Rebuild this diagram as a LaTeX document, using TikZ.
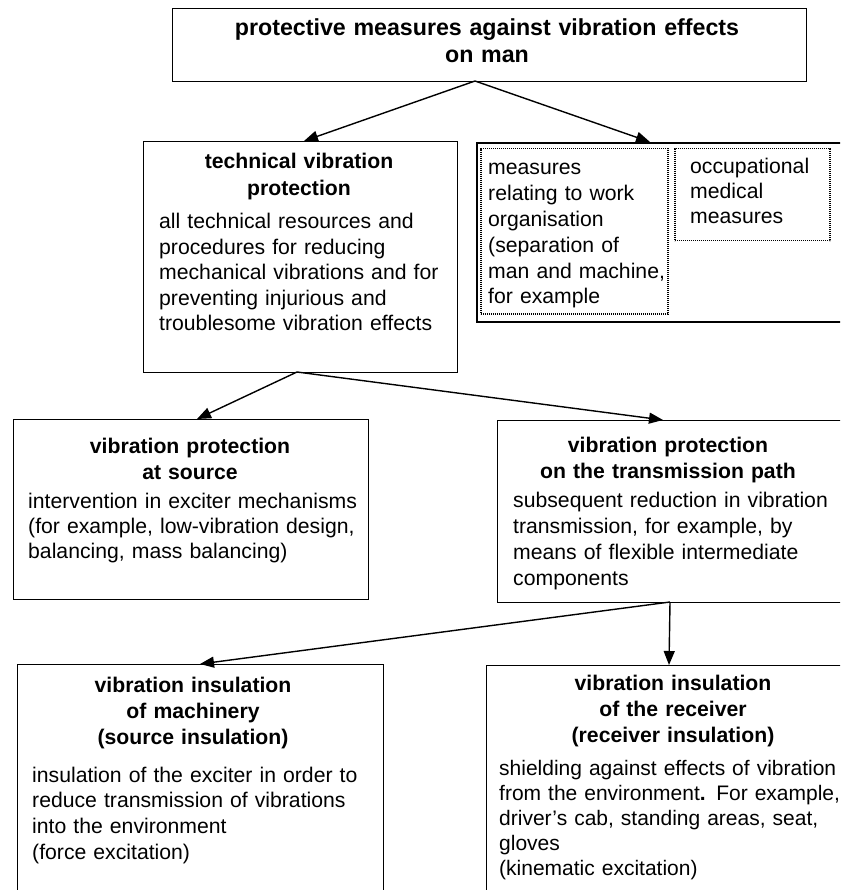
\documentclass[tikz,border=0pt]{standalone}
\usepackage{fontspec}
\setmainfont{Liberation Sans}
\usetikzlibrary{arrows.meta}
\begin{document}
\begin{tikzpicture}[x=1pt,y=-1pt,
  box/.style={draw, line width=1.4pt, anchor=north west, inner sep=0pt, rectangle},
  dotbox/.style={draw, line width=1.5pt, dash pattern=on 1.1pt off 0.9pt, anchor=north west, inner sep=0pt, rectangle},
  ttl/.style={anchor=base, inner sep=0pt, text width=560pt, align=center, font=\fontsize{21.2}{26.3}\selectfont\bfseries},
  bod/.style={anchor=base west, inner sep=0pt, text width=400pt, align=left, font=\fontsize{21.2}{25.5}\selectfont},
  arr/.style={line width=1.4pt, -{Triangle[length=14pt,width=11pt]}}]
\useasboundingbox (0,0) rectangle (840,890);
\begin{scope}
\clip (0,0) rectangle (840,890);
% boxes
\node[box, minimum width=634pt, minimum height=73pt] (top) at (172,8) {};
\node[box, minimum width=314pt, minimum height=231pt] (tech) at (143,141) {};
\node[box, line width=1.8pt, minimum width=369pt, minimum height=179pt] (meas) at (476,142) {};
\node[dotbox, minimum width=187pt, minimum height=165pt] (dl) at (480,148) {};
\node[dotbox, minimum width=155pt, minimum height=92pt] (dr) at (674,148) {};
\node[box, minimum width=355pt, minimum height=180pt] (src) at (13,419) {};
\node[box, minimum width=345pt, minimum height=182pt] (trans) at (497,420) {};
\node[box, minimum width=366pt, minimum height=240pt] (mach) at (17,664) {};
\node[box, minimum width=374pt, minimum height=240pt] (recv) at (486,665) {};
% texts
\node[ttl, font=\fontsize{23.2}{27}\selectfont\bfseries] (topT) at (487,36) {protective measures against vibration effects\\on man};
\node[ttl] (techT) at (299,169) {technical vibration\\protection};
\node[bod] (techB) at (159,229) {all technical resources and\\procedures for reducing\\mechanical vibrations and for\\preventing injurious and\\troublesome vibration effects};
\node[bod, font=\fontsize{21.2}{25.8}\selectfont] (dlB) at (488,175) {measures\\relating to work\\organisation\\(separation of\\man and machine,\\for example};
\node[bod, font=\fontsize{21.2}{24.8}\selectfont] (drB) at (690,174) {occupational\\medical\\measures};
\node[ttl] (srcT) at (190,453) {vibration protection\\at source};
\node[bod, font=\fontsize{21.2}{25}\selectfont] (srcB) at (28,508) {intervention in exciter mechanisms\\(for example, low-vibration design,\\balancing, mass balancing)};
\node[ttl] (transT) at (668,452) {vibration protection\\on the transmission path};
\node[bod, font=\fontsize{21.2}{26}\selectfont] (transB) at (513,507) {subsequent reduction in vibration\\transmission, for example, by\\means of flexible intermediate\\components};
\node[ttl] (machT) at (193,692) {vibration insulation\\of machinery\\(source insulation)};
\node[bod, font=\fontsize{21.2}{25.7}\selectfont] (machB) at (32,782) {insulation of the exciter in order to\\reduce transmission of vibrations\\into the environment\\(force excitation)};
\node[ttl] (recvT) at (673,690) {vibration insulation\\of the receiver\\(receiver insulation)};
\node[bod, font=\fontsize{21}{25}\selectfont] (recvB) at (499,775) {shielding against effects of vibration\\from the environment{\bfseries .} For example,\\driver’s cab, standing areas, seat,\\gloves\\(kinematic excitation)};
% connectors
\coordinate (j1) at (475,81);
\coordinate (techIn) at (304,141);
\coordinate (measIn) at (650,142);
\coordinate (j2) at (297,372);
\coordinate (srcIn) at (197,419);
\coordinate (transIn) at (663,420);
\coordinate (j3) at (670,602);
\coordinate (machIn) at (200,664);
\coordinate (recvIn) at (669,665);
\draw[arr] (j1) -- (techIn);
\draw[arr] (j1) -- (measIn);
\draw[arr] (j2) -- (srcIn);
\draw[arr] (j2) -- (transIn);
\draw[arr] (j3) -- (machIn);
\draw[arr] (j3) -- (recvIn);
\end{scope}
\end{tikzpicture}
\end{document}
